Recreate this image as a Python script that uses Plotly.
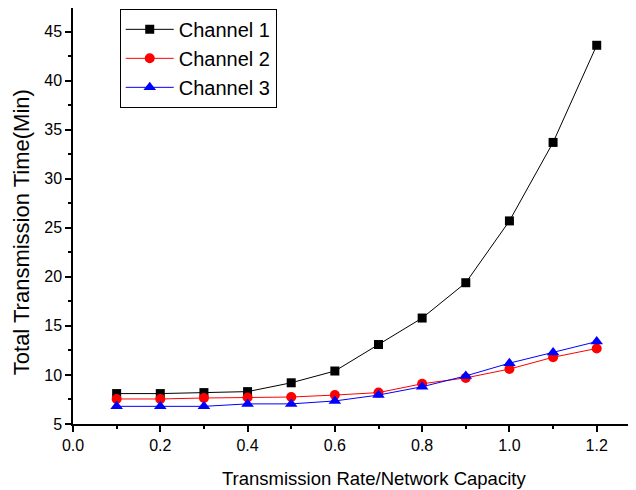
import plotly.graph_objects as go

x_vals = [0.1, 0.2, 0.3, 0.4, 0.5, 0.6, 0.7, 0.8, 0.9, 1.0, 1.1, 1.2]
channel1 = [8.1, 8.1, 8.2, 8.3, 9.2, 10.4, 13.1, 15.8, 19.4, 25.7, 33.7, 43.6]
channel2 = [7.55, 7.55, 7.65, 7.7, 7.75, 7.95, 8.2, 9.1, 9.7, 10.6, 11.8, 12.7]
channel3 = [6.8, 6.8, 6.8, 7.05, 7.05, 7.35, 7.95, 8.8, 9.9, 11.2, 12.3, 13.4]
names = ["Channel 1", "Channel 2", "Channel 3"]
x_title = "Transmission Rate/Network Capacity"
y_title = "Total Transmission Time(Min)"

fig = go.Figure()
fig.add_trace(go.Scatter(x=x_vals, y=channel1, name=names[0], mode="lines+markers",
                         line=dict(color="black", width=1),
                         marker=dict(symbol="square", size=9, color="black")))
fig.add_trace(go.Scatter(x=x_vals, y=channel2, name=names[1], mode="lines+markers",
                         line=dict(color="red", width=1),
                         marker=dict(symbol="circle", size=10, color="red")))
fig.add_trace(go.Scatter(x=x_vals, y=channel3, name=names[2], mode="lines+markers",
                         line=dict(color="blue", width=1),
                         marker=dict(symbol="triangle-up", size=11, color="blue")))

font = "Liberation Sans, Arial, sans-serif"
fig.update_layout(
    width=628, height=482,
    margin=dict(l=65, r=0, t=0, b=66),
    paper_bgcolor="white", plot_bgcolor="white",
    font=dict(family=font, size=16, color="black"),
    showlegend=True,
    legend=dict(x=0.083, y=0.998, xanchor="left", yanchor="top",
                bordercolor="black", borderwidth=1, bgcolor="white",
                font=dict(size=20), tracegroupgap=0, itemwidth=48),
    xaxis=dict(range=[0, 1.29], tickvals=[0.0, 0.2, 0.4, 0.6, 0.8, 1.0, 1.2],
               ticktext=["0.0", "0.2", "0.4", "0.6", "0.8", "1.0", "1.2"],
               showline=True, linecolor="black", linewidth=1.5,
               ticks="outside", ticklen=6, tickcolor="black", tickwidth=1.5,
               minor=dict(dtick=0.1, tick0=0, ticks="outside", ticklen=3, tickcolor="black", tickwidth=1.5),
               showgrid=False, zeroline=False, automargin=False),
    yaxis=dict(range=[5, 47.4], tickvals=[5, 10, 15, 20, 25, 30, 35, 40, 45],
               showline=True, linecolor="black", linewidth=1.5,
               ticks="outside", ticklen=6, tickcolor="black", tickwidth=1.5,
               minor=dict(dtick=2.5, tick0=0, ticks="outside", ticklen=3, tickcolor="black", tickwidth=1.5),
               showgrid=False, zeroline=False, automargin=False),
    annotations=[
        dict(text=x_title, xref="paper", yref="paper", x=0.535, y=-0.13,
             xanchor="center", yanchor="middle", showarrow=False, font=dict(size=18.5)),
        dict(text=y_title, xref="paper", yref="paper", x=-0.092, y=0.4615, textangle=-90,
             xanchor="center", yanchor="middle", showarrow=False, font=dict(size=22)),
    ],
)

fig.write_html("out.html")
